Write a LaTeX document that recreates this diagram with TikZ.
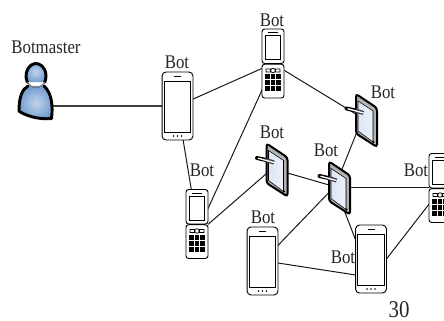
\documentclass[tikz,border=0pt]{standalone}
\usepackage{fontspec}
\setmainfont[FakeStretch=.87]{Liberation Serif}
\usepackage{tikz}
\usetikzlibrary{shapes,positioning,calc,backgrounds}
\definecolor{screenblue}{rgb}{.86,.9,.97}
\definecolor{masterin}{rgb}{.76,.83,.92}
\definecolor{masterout}{rgb}{.45,.62,.82}
\tikzset{
	lbl/.style={inner sep=0,text=black!85,font=\fontsize{14.5}{16}\selectfont},
	link/.style={line width=.75pt,black!90},
	phonebox/.style={draw,fill=white,rounded corners=3pt,line width=.7pt,minimum width=23.2pt,minimum height=51pt,inner sep=0,outer sep=0},
	flipbox/.style={fill=white,rounded corners=2pt,minimum width=16.5pt,minimum height=51.5pt,inner sep=0,outer sep=0},
	tabletbox/.style={minimum width=16.5pt,minimum height=40pt,inner sep=0,outer sep=0},
	masterbox/.style={minimum width=25.5pt,minimum height=42pt,inner sep=0,outer sep=0}
}
\newcommand{\drawphone}[2]{
	\node[phonebox] (#1) at (#2) {};
	\begin{scope}[shift={(#1.center)},line width=.6pt]
		\draw (-13.3,-25) rectangle (13.3,26);
		\draw[line width=.8pt] (-3.5,-29.5) -- (3.5,-29.5);
		\foreach \dotx in {-4,0,4} \fill (\dotx,30) circle (.7pt);
	\end{scope}
}
\newcommand{\drawflip}[2]{
	\node[flipbox] (#1) at (#2) {};
	\begin{scope}[shift={(#1.center)},line width=.7pt]
		\draw[fill=white,rounded corners=2pt] (-11,0) -- (-11,-34.5) -- (11,-34.5) -- (11,0) -- cycle;
		\draw[fill=white,rounded corners=2pt] (-11,.7) -- (-11,34.5) -- (11,34.5) -- (11,.7) -- cycle;
		\draw[line width=.5pt] (-7.5,-28) rectangle (7.5,-4);
		\draw (-5,-31) -- (5,-31);
		\draw[line width=.5pt,fill=white] (-7,5.5) rectangle (-2.5,8.5) (2.5,5.5) rectangle (7,8.5) (0,7) circle (1.7pt);
		\foreach \keyx in {-7.6,-2.3,3} \foreach \keyy in {11,17,23}
			\fill (\keyx,\keyy) rectangle +(4.6,5);
	\end{scope}
}
\newcommand{\drawtablet}[2]{
	\node[tabletbox] (#1) at (#2) {};
	\begin{scope}[shift={(#1.center)}]
		\draw[line width=1.5pt,fill=black!30,rounded corners=2pt] (-10.5,-26.5) -- (10.5,-12.5) -- (10.5,26.5) -- (-10.5,13) -- cycle;
		\fill[left color=screenblue,right color=screenblue!50] (-8.5,-19.5) -- (6.5,-9.5) -- (6.5,21.5) -- (-8.5,10.5) -- cycle;
		\draw[line width=.4pt] (-8.5,-19.5) -- (6.5,-9.5) -- (6.5,21.5) -- (-8.5,10.5) -- cycle;
		\draw[line width=3pt,line cap=round] (-20,-12) -- (-11,-10);
		\draw[line width=3pt,black!75] (-11,-10) -- (-3,-7.5);
		\draw[line width=1pt,white] (-19,-11.8) -- (-3,-7.5);
		\fill (7,21.5) circle (.9pt);
	\end{scope}
}
\newcommand{\drawmaster}[2]{
	\node[masterbox] (#1) at (#2) {};
	\begin{scope}[shift={(#1.center)},line width=2.2pt,line join=round,line cap=round]
		\draw[inner color=masterin,outer color=masterout] (-8,-6) .. controls (-13,-3) and (-17,3) .. (-17,19) .. controls (-12,23) and (2,28) .. (15.5,26.5) .. controls (17,15) and (16,1) .. (8,-6);
		\draw[inner color=masterin,outer color=masterout] (-8.66,-9.75) arc[start angle=150,end angle=390,x radius=10,y radius=12.5];
		\draw[line width=.8pt,black!55] (-8.66,-9.75) .. controls (-4,-2.5) and (4,-2.5) .. (8.66,-9.75);
	\end{scope}
}

\begin{document}
\begin{tikzpicture}[x=.75pt,y=-.75pt]
	\clip[use as bounding box] (0,0) rectangle (444,321);

	\drawmaster{master}{36,92}
	\drawphone{bot1}{177.5,106}
	\drawflip{bot2}{273,63.5}
	\drawtablet{bot3}{366.5,120.5}
	\drawtablet{bot4}{277,170}
	\drawtablet{bot5}{339.5,188}
	\drawflip{bot6}{197,224}
	\drawflip{bot7}{440,188}
	\drawphone{bot8}{262.5,261}
	\drawphone{bot9}{371,259}

	\node[lbl] (lmaster) at (46,47) {Botmaster};
	\node[lbl] (l1) at (177,62) {Bot};
	\node[lbl] (l2) at (272,20) {Bot};
	\node[lbl] (l3) at (383,92) {Bot};
	\node[lbl] (l4) at (272,132) {Bot};
	\node[lbl] (l5) at (326,150) {Bot};
	\node[lbl] (l6) at (202,170) {Bot};
	\node[lbl] (l7) at (416,170) {Bot};
	\node[lbl] (l8) at (263,217) {Bot};
	\node[lbl] (l9) at (343,257) {Bot};
	\node[lbl,font=\fontsize{18}{20}\selectfont] (page) at (399,309.5) {30};

	\begin{pgfonlayer}{background}
	\draw[line width=1pt,black!75] (master.east |- bot1.west) -- (bot1.west);
	\draw[link] (bot1.center) -- (bot2.center);
	\draw[link] (bot1.center) -- (bot6.center);
	\draw[link] ($(bot2)+(0,2.5)$) -- ($(bot6)+(4,0)$);
	\draw[link] (bot2.center) -- (bot3.center);
	\draw[link] ($(bot3)+(-5,0)$) -- ($(bot5)+(-5,0)$);
	\draw[link] ($(bot4)+(0,-5.6)$) -- ($(bot6)+(0,10)$);
	\draw[link] (bot4.center) -- (bot5.center);
	\draw[link] (bot5.center) -- (bot7.center);
	\draw[link] ($(bot5)+(0,-6.5)$) -- ($(bot8)+(0,.5)$);
	\draw[link] ($(bot5)+(-4,0)$) -- ($(bot9)+(-8,0)$);
	\draw[link] ($(bot8.east)+(0,2)$) -- ($(bot9.west)+(0,16)$);
	\draw[link] (bot9.east) -- ($(bot7)+(0,2)$);
	\end{pgfonlayer}
\end{tikzpicture}
\end{document}
